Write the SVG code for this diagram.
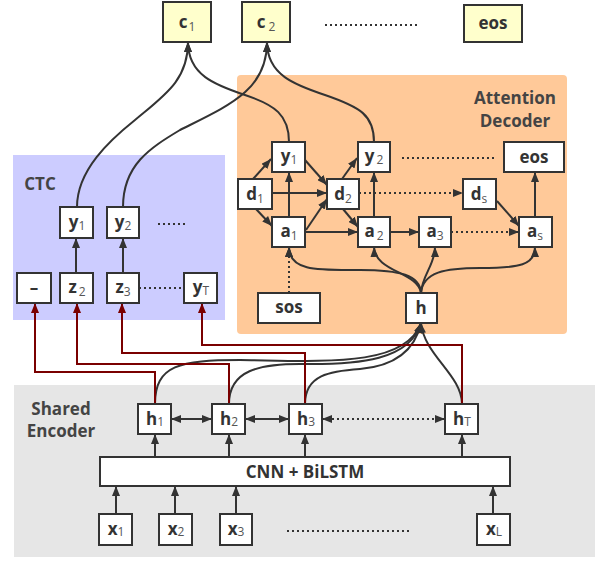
<svg xmlns="http://www.w3.org/2000/svg" width="597" height="561" viewBox="0 0 597 561">
<defs>
<style>
.box{fill:#fff;stroke:#333;stroke-width:2}
.ybox{fill:#ffffcc;stroke:#333;stroke-width:2}
.lbl{font-family:"Open Sans","Noto Sans","DejaVu Sans",sans-serif;font-size:17px;font-weight:bold;fill:#333;text-anchor:middle}
.sub{font-size:12px;font-weight:normal;fill:#555}
.title{font-family:"Open Sans","Noto Sans","DejaVu Sans",sans-serif;font-size:17px;font-weight:bold;fill:#444;text-anchor:middle}
.c{fill:none;stroke:#333;stroke-width:2}
.ca{fill:none;stroke:#333;stroke-width:2;marker-end:url(#ah)}
.cd{fill:none;stroke:#333;stroke-width:2;marker-start:url(#ah);marker-end:url(#ah)}
.dot{stroke-dasharray:2 3}
.red{fill:none;stroke:#7a0000;stroke-width:2;marker-end:url(#ahr)}
.deco{fill:none;stroke:#333;stroke-width:2;stroke-dasharray:2 3}
</style>
<marker id="ah" viewBox="0 0 10 8" refX="10" refY="4" markerWidth="10" markerHeight="8" markerUnits="userSpaceOnUse" orient="auto-start-reverse"><path d="M0,0L10,4L0,8z" fill="#333"/></marker>
<marker id="ahr" viewBox="0 0 10 8" refX="10" refY="4" markerWidth="10" markerHeight="8" markerUnits="userSpaceOnUse" orient="auto"><path d="M0,0L10,4L0,8z" fill="#7a0000"/></marker>
</defs>
<rect width="597" height="561" fill="#fff"/>
<!-- panels -->
<g id="panels">
<rect x="13" y="155" width="212" height="165" fill="#ccccff"/>
<rect x="237" y="75" width="330" height="259" rx="4" fill="#ffc999"/>
<rect x="14" y="385" width="581" height="172" fill="#e6e6e6"/>
<text class="title" x="40" y="190">CTC</text>
<text class="title" x="515" y="104">Attention</text>
<text class="title" x="515" y="127">Decoder</text>
<text class="title" x="61" y="415">Shared</text>
<text class="title" x="61" y="437">Encoder</text>
</g>
<!-- decorative dots -->
<g id="dots">
<path class="deco" d="M325,25H420"/>
<path class="deco" d="M402,158H497"/>
<path class="deco" d="M158,224H187"/>
<path class="deco" d="M139,288H182"/>
<path class="deco" d="M287,531H410"/>
</g>
<!-- connectors -->
<g id="connectors">
<path class="ca" d="M77,207C77,170 110,140 135,120C165,95 188,80 188,42"/>
<path class="ca" d="M289,142C289,115 275,105 245,95C215,85 188,75 188,42"/>
<path class="ca" d="M123,207C123,165 150,148 180,130C230,105 267,90 267,42"/>
<path class="ca" d="M374,142C374,115 360,107 325,95C295,85 267,75 267,42"/>
<path class="ca" d="M253,179L271,159"/>
<path class="ca" d="M289,217V172"/>
<path class="ca" d="M305,160L327,185"/>
<path class="ca" d="M272,193H327"/>
<path class="ca" d="M342,179L357,158"/>
<path class="ca" d="M374,217V172"/>
<path class="ca dot" d="M359,193H463"/>
<path class="ca" d="M256,209L272,226"/>
<path class="ca" d="M306,230L327,199"/>
<path class="ca" d="M305,232H358"/>
<path class="ca" d="M343,209L358,227"/>
<path class="ca" d="M390,232H419"/>
<path class="ca dot" d="M451,232H519"/>
<path class="ca" d="M497,201L519,226"/>
<path class="ca" d="M535,217V172"/>
<path class="ca dot" d="M289,293V247"/>
<path class="ca" d="M421,293C420,275 400,270 360,270C320,270 289,272 289,247"/>
<path class="ca" d="M421,293C418,272 375,272 374,247"/>
<path class="ca" d="M421,293C422,275 435,265 435,247"/>
<path class="ca" d="M421,293C423,272 445,268 480,268C520,268 535,265 535,247"/>
<path class="ca" d="M155,404C155,365 180,360 240,360C320,361 405,368 421,323"/>
<path class="ca" d="M229,404C229,370 260,364 300,364C360,365 410,360 421,323"/>
<path class="ca" d="M305,404C305,375 330,371 360,369C395,366 415,350 421,323"/>
<path class="ca" d="M462,404C462,375 424,355 421,323"/>
<path class="red" d="M155,404V372H35V303"/>
<path class="red" d="M229,404V364H77V303"/>
<path class="red" d="M305,404V353H122V303"/>
<path class="red" d="M462,404V345H202V303"/>
<path class="ca" d="M76,273V238"/>
<path class="ca" d="M123,273V238"/>
<path class="cd" d="M171,419H212"/>
<path class="cd" d="M245,419H289"/>
<path class="cd dot" d="M322,419H445"/>
<path class="ca" d="M155,457V434"/>
<path class="ca" d="M229,457V434"/>
<path class="ca" d="M305,457V434"/>
<path class="ca" d="M462,457V434"/>
<path class="ca" d="M116,514V486"/>
<path class="ca" d="M175,514V486"/>
<path class="ca" d="M236,514V486"/>
<path class="ca" d="M493,514V486"/>
</g>
<!-- top outputs -->
<g id="c1"><rect class="ybox" x="163" y="2" width="48" height="40"/><text class="lbl" x="187" y="28">c<tspan class="sub" dx="1" dy="3">1</tspan></text></g>
<g id="c2"><rect class="ybox" x="242" y="2" width="48" height="40"/><text class="lbl" x="266" y="28">c<tspan class="sub" dx="3" dy="3">2</tspan></text></g>
<g id="eos-out"><rect class="ybox" x="464" y="5" width="58" height="37"/><text class="lbl" x="493" y="29">eos</text></g>
<!-- attention decoder -->
<g id="att-y1"><rect class="box" x="272" y="142" width="33" height="30"/><text class="lbl" x="289" y="162">y<tspan class="sub" dy="2">1</tspan></text></g>
<g id="att-y2"><rect class="box" x="358" y="142" width="32" height="30"/><text class="lbl" x="374" y="162">y<tspan class="sub" dx="2" dy="2">2</tspan></text></g>
<g id="att-eos"><rect class="box" x="504" y="142" width="60" height="30"/><text class="lbl" x="534" y="163">eos</text></g>
<g id="d1"><rect class="box" x="238" y="179" width="34" height="30"/><text class="lbl" x="255" y="200">d<tspan class="sub" dy="3">1</tspan></text></g>
<g id="d2"><rect class="box" x="327" y="179" width="32" height="30"/><text class="lbl" x="343" y="200">d<tspan class="sub" dy="3">2</tspan></text></g>
<g id="ds"><rect class="box" x="463" y="179" width="33" height="30"/><text class="lbl" x="479" y="200">d<tspan class="sub" font-size="9" dy="3">s</tspan></text></g>
<g id="a1"><rect class="box" x="272" y="217" width="33" height="30"/><text class="lbl" x="289" y="237">a<tspan class="sub" dy="3">1</tspan></text></g>
<g id="a2"><rect class="box" x="358" y="217" width="32" height="30"/><text class="lbl" x="374" y="237">a<tspan class="sub" dx="2" dy="3">2</tspan></text></g>
<g id="a3"><rect class="box" x="419" y="217" width="32" height="30"/><text class="lbl" x="435" y="237">a<tspan class="sub" dy="3">3</tspan></text></g>
<g id="as"><rect class="box" x="519" y="217" width="33" height="30"/><text class="lbl" x="535" y="237">a<tspan class="sub" font-size="9" dy="3">s</tspan></text></g>
<g id="sos"><rect class="box" x="258" y="293" width="62" height="30"/><text class="lbl" x="289" y="313">sos</text></g>
<g id="h"><rect class="box" x="406" y="293" width="31" height="30"/><text class="lbl" x="421" y="314">h</text></g>
<!-- CTC -->
<g id="ctc-y1"><rect class="box" x="60" y="207" width="33" height="31"/><text class="lbl" x="77" y="228">y<tspan class="sub" dy="2">1</tspan></text></g>
<g id="ctc-y2"><rect class="box" x="107" y="207" width="32" height="31"/><text class="lbl" x="123" y="228">y<tspan class="sub" dy="2">2</tspan></text></g>
<g id="blank"><rect class="box" x="17" y="273" width="34" height="30"/><text class="lbl" x="34" y="294" font-size="19">–</text></g>
<g id="z2"><rect class="box" x="60" y="273" width="33" height="30"/><text class="lbl" x="77" y="293">z<tspan class="sub" dx="2" dy="3">2</tspan></text></g>
<g id="z3"><rect class="box" x="107" y="273" width="32" height="30"/><text class="lbl" x="123" y="293">z<tspan class="sub" dy="3">3</tspan></text></g>
<g id="yT"><rect class="box" x="184" y="273" width="33" height="30"/><text class="lbl" x="201" y="293">y<tspan class="sub" dy="2">T</tspan></text></g>
<!-- shared encoder -->
<g id="h1"><rect class="box" x="138" y="404" width="33" height="30"/><text class="lbl" x="155" y="425">h<tspan class="sub" dy="1">1</tspan></text></g>
<g id="h2"><rect class="box" x="212" y="404" width="33" height="30"/><text class="lbl" x="229" y="425">h<tspan class="sub" dy="1">2</tspan></text></g>
<g id="h3"><rect class="box" x="289" y="404" width="33" height="30"/><text class="lbl" x="306" y="425">h<tspan class="sub" dy="1">3</tspan></text></g>
<g id="hT"><rect class="box" x="445" y="404" width="33" height="30"/><text class="lbl" x="462" y="425">h<tspan class="sub" dy="1">T</tspan></text></g>
<g id="cnn"><rect class="box" x="100" y="457" width="410" height="29"/><text class="lbl" x="305" y="478" font-size="18">CNN + BiLSTM</text></g>
<g id="x1"><rect class="box" x="99" y="514" width="33" height="31"/><text class="lbl" x="116" y="535">x<tspan class="sub" dy="1">1</tspan></text></g>
<g id="x2"><rect class="box" x="159" y="514" width="33" height="31"/><text class="lbl" x="176" y="535">x<tspan class="sub" dy="1">2</tspan></text></g>
<g id="x3"><rect class="box" x="220" y="514" width="32" height="31"/><text class="lbl" x="236" y="535">x<tspan class="sub" dy="1">3</tspan></text></g>
<g id="xL"><rect class="box" x="477" y="514" width="33" height="31"/><text class="lbl" x="494" y="535">x<tspan class="sub" dy="1">L</tspan></text></g>
</svg>
